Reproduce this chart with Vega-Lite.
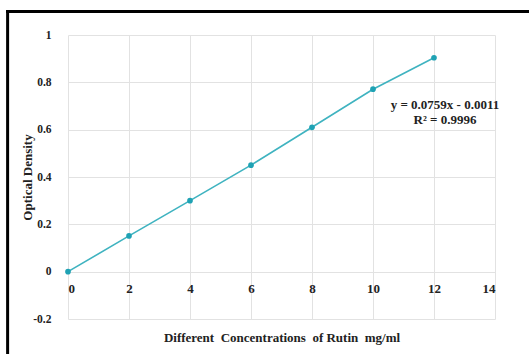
{
  "$schema": "https://vega.github.io/schema/vega-lite/v6.json",
  "autosize": {"type": "none"},
  "width": 427,
  "height": 284,
  "padding": {"left": 68, "top": 35, "right": 34, "bottom": 35},
  "background": "white",
  "config": {
    "view": {"stroke": null},
    "font": "Liberation Serif",
    "axis": {
      "labelFont": "Liberation Serif",
      "titleFont": "Liberation Serif",
      "labelFontWeight": "bold",
      "titleFontWeight": "bold",
      "labelColor": "#222222",
      "titleColor": "#222222",
      "gridColor": "#e2e2e2",
      "gridWidth": 1,
      "domain": false,
      "ticks": false
    }
  },
  "layer": [
    {
      "data": {
        "name": "points",
        "values": [
          {"conc": 0, "od": 0.0},
          {"conc": 2, "od": 0.151},
          {"conc": 4, "od": 0.300},
          {"conc": 6, "od": 0.450},
          {"conc": 8, "od": 0.610},
          {"conc": 10, "od": 0.771},
          {"conc": 12, "od": 0.904}
        ]
      },
      "layer": [
        {
          "mark": {"type": "line", "color": "#3fb3c0", "strokeWidth": 1.6},
          "encoding": {
            "x": {
              "field": "conc", "type": "quantitative",
              "scale": {"domain": [0, 14], "nice": false, "zero": false},
              "axis": {
                "values": [0, 2, 4, 6, 8, 10, 12, 14],
                "labelFontSize": 13,
                "labelPadding": -37,
                "labelBaseline": "top",
                "title": "Different\u00a0 Concentrations\u00a0 of Rutin\u00a0 mg/ml",
                "titleFontSize": 13,
                "titleY": 18,
                "titleBaseline": "middle"
              }
            },
            "y": {
              "field": "od", "type": "quantitative",
              "scale": {"domain": [-0.2, 1], "nice": false, "zero": false},
              "axis": {
                "values": [-0.2, 0, 0.2, 0.4, 0.6, 0.8, 1],
                "labelExpr": "toString(round(datum.value*10)/10)",
                "labelFontSize": 11.5,
                "labelPadding": 17,
                "title": "Optical Density",
                "titleFontSize": 13,
                "titleX": -41,
                "titleBaseline": "middle"
              }
            }
          }
        },
        {
          "mark": {"type": "point", "filled": true, "color": "#1fa2b4", "size": 32, "opacity": 1},
          "encoding": {
            "x": {"field": "conc", "type": "quantitative"},
            "y": {"field": "od", "type": "quantitative"}
          }
        }
      ]
    },
    {
      "data": {"values": [{"label": "fit"}]},
      "layer": [
        {
          "mark": {
            "type": "text",
            "text": ["y = 0.0759x - 0.0011", "R² = 0.9996"],
            "font": "Liberation Serif",
            "fontWeight": "bold",
            "fontSize": 13,
            "lineHeight": 15,
            "color": "#222222",
            "align": "center",
            "baseline": "middle"
          },
          "encoding": {
            "x": {"datum": 12.36, "type": "quantitative"},
            "y": {"datum": 0.706, "type": "quantitative"}
          }
        },
        {
          "mark": {"type": "rule", "color": "black", "strokeWidth": 3, "strokeCap": "square"},
          "encoding": {
            "x": {"datum": -1.98, "type": "quantitative"},
            "y": {"datum": 1.099, "type": "quantitative"},
            "y2": {"datum": -0.6}
          }
        },
        {
          "mark": {"type": "rule", "color": "black", "strokeWidth": 3, "strokeCap": "square"},
          "encoding": {
            "y": {"datum": 1.099, "type": "quantitative"},
            "x": {"datum": -1.98, "type": "quantitative"},
            "x2": {"datum": 17}
          }
        }
      ]
    }
  ]
}
